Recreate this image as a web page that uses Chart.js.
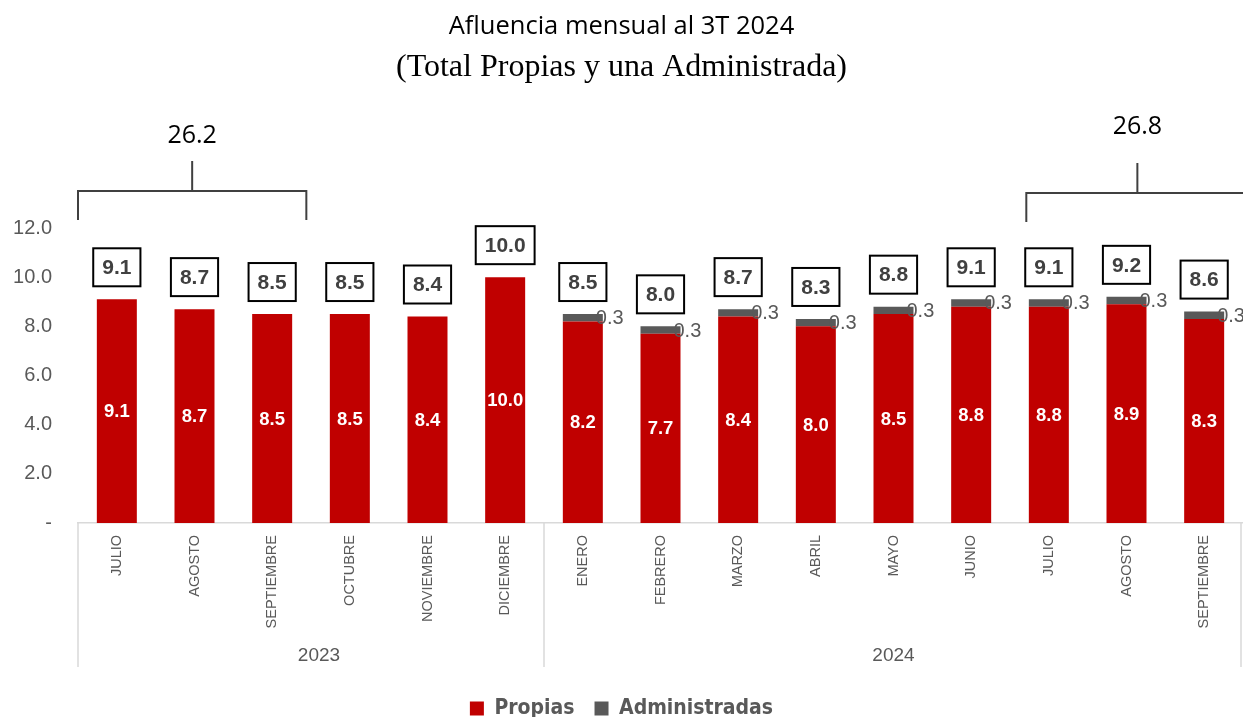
<!DOCTYPE html>
<html><head><meta charset="utf-8">
<script src="https://cdn.jsdelivr.net/npm/chart.js@4.4.1/dist/chart.umd.min.js"></script>
<style>html,body{margin:0;padding:0;background:#fff;overflow:hidden}canvas{display:block}</style>
</head><body>
<canvas id="c" width="1243" height="717"></canvas>
<script>
// ---- data ----
const categories = ['JULIO','AGOSTO','SEPTIEMBRE','OCTUBRE','NOVIEMBRE','DICIEMBRE','ENERO','FEBRERO','MARZO','ABRIL','MAYO','JUNIO','JULIO','AGOSTO','SEPTIEMBRE'];
const propias = [9.1, 8.7, 8.5, 8.5, 8.4, 10.0, 8.2, 7.7, 8.4, 8.0, 8.5, 8.8, 8.8, 8.9, 8.3];
const administradas = [null, null, null, null, null, null, 0.3, 0.3, 0.3, 0.3, 0.3, 0.3, 0.3, 0.3, 0.3];
const yTicks = [0, 2, 4, 6, 8, 10, 12];
const years = ['2023', '2024'];
const yearFirst = [0, 6];
const yearLast = [5, 14];
const bracketLabels = ['26.2', '26.8'];
const bracketFrom = [0, 12];
const bracketTo = [2, 14];

// ---- styling ----
const SANS = '"Liberation Sans", Arial, sans-serif';
const NARROW = '"Liberation Sans Narrow", "DejaVu Sans Condensed", "Liberation Sans", sans-serif';
const TITLE_FONT = '"Open Sans", "Liberation Sans", sans-serif';
const RED = '#C00000', GRAY = '#595959', TXT = '#595959';
const LEGEND_PAD = 20, BOTTOM_OVERFLOW = 12;
const CHART_BOTTOM = 523;

const overlay = {
  id: 'overlay',
  afterDatasetsDraw(chart) {
    const ctx = chart.ctx, xs = chart.scales.x, ys = chart.scales.y;
    const m0 = chart.getDatasetMeta(0), m1 = chart.getDatasetMeta(1);
    ctx.save();
    ctx.textBaseline = 'middle';
    // white values inside red bars
    ctx.font = 'bold 18.5px ' + SANS;
    ctx.fillStyle = '#ffffff';
    ctx.textAlign = 'center';
    m0.data.forEach((b, i) => {
      ctx.fillText(propias[i].toFixed(1), b.x, (b.y + b.base) / 2 + 1);
    });
    // administradas values
    ctx.font = '20px ' + SANS;
    ctx.fillStyle = '#595959';
    ctx.textAlign = 'left';
    m1.data.forEach((b, i) => {
      if (administradas[i] == null) return;
      ctx.fillText(administradas[i].toFixed(1), b.x + b.width / 2 - 7, (b.y + b.base) / 2 + 1);
    });
    // boxed totals
    ctx.font = 'bold 21px ' + SANS;
    ctx.textAlign = 'center';
    categories.forEach((c, i) => {
      const total = propias[i] + (administradas[i] || 0);
      const txt = total.toFixed(1);
      const top = ys.getPixelForValue(total);
      const w = ctx.measureText(txt).width + 18, h = 38;
      const cx = m0.data[i].x;
      const bottom = top - 13;
      ctx.fillStyle = '#ffffff';
      ctx.fillRect(cx - w / 2, bottom - h, w, h);
      ctx.strokeStyle = '#000000';
      ctx.lineWidth = 2;
      ctx.strokeRect(cx - w / 2, bottom - h, w, h);
      ctx.fillStyle = '#404040';
      ctx.fillText(txt, cx, bottom - h / 2 + 1);
    });
    ctx.restore();
  },
  afterDraw(chart) {
    const ctx = chart.ctx, xs = chart.scales.x, ca = chart.chartArea;
    const cat = xs.getPixelForValue(1) - xs.getPixelForValue(0);
    ctx.save();
    // group separators & year labels
    ctx.strokeStyle = '#d9d9d9';
    ctx.lineWidth = 1.5;
    const seps = [xs.getPixelForValue(yearFirst[0]) - cat / 2];
    yearLast.forEach(l => seps.push(Math.min(xs.getPixelForValue(l) + cat / 2, chart.width - 2)));
    seps.forEach(sx => {
      ctx.beginPath();
      ctx.moveTo(sx, ca.bottom);
      ctx.lineTo(sx, ca.bottom + 144);
      ctx.stroke();
    });
    ctx.font = '19px ' + SANS;
    ctx.fillStyle = TXT;
    ctx.textAlign = 'center';
    ctx.textBaseline = 'middle';
    years.forEach((y, k) => {
      const a = xs.getPixelForValue(yearFirst[k]) - cat / 2;
      const b = xs.getPixelForValue(yearLast[k]) + cat / 2;
      ctx.fillText(y, (a + b) / 2 + (k === 0 ? 8 : 0), ca.bottom + 133);
    });
    // brackets
    const style = [
      {left: -0.5, right: 0.44, line: -37, foot: -8, stem: -30, text: -92},
      {left: -0.29, right: 0.57, line: -35, foot: -6, stem: -30, text: -101}
    ];
    ctx.strokeStyle = '#404040';
    ctx.lineWidth = 2;
    bracketLabels.forEach((lab, k) => {
      const s = style[k];
      const x0 = xs.getPixelForValue(bracketFrom[k]) + s.left * cat;
      const x1 = xs.getPixelForValue(bracketTo[k]) + s.right * cat;
      const ly = ca.top + s.line;
      const mid = (x0 + x1) / 2;
      ctx.beginPath();
      ctx.moveTo(x0, ca.top + s.foot);
      ctx.lineTo(x0, ly);
      ctx.lineTo(x1, ly);
      ctx.lineTo(x1, ca.top + s.foot);
      ctx.moveTo(mid, ly);
      ctx.lineTo(mid, ly + s.stem);
      ctx.stroke();
      ctx.font = '25px ' + TITLE_FONT;
      ctx.fillStyle = '#000000';
      ctx.fillText(lab, mid, ca.top + s.text);
    });
    ctx.restore();
  }
};

new Chart(document.getElementById('c'), {
  type: 'bar',
  data: {
    labels: categories,
    datasets: [
      {label: 'Propias', data: propias, backgroundColor: RED, barPercentage: 0.515, categoryPercentage: 1},
      {label: 'Administradas', data: administradas, backgroundColor: GRAY, barPercentage: 0.515, categoryPercentage: 1}
    ]
  },
  options: {
    responsive: false,
    animation: false,
    layout: {padding: {top: 0, left: 0, right: 0, bottom: -BOTTOM_OVERFLOW}},
    plugins: {
      title: {
        display: true,
        text: 'Afluencia mensual al 3T 2024',
        color: '#000000',
        font: {family: TITLE_FONT, size: 25.5, weight: 'normal', lineHeight: 1.2},
        padding: {top: 11, bottom: 0}
      },
      subtitle: {
        display: true,
        text: '(Total Propias y una Administrada)',
        color: '#000000',
        font: {family: '"Liberation Serif", "Times New Roman", serif', size: 32, weight: 'normal', lineHeight: 1.2},
        padding: {top: 7, bottom: 141}
      },
      legend: {
        display: true,
        position: 'bottom',
        labels: {
          color: TXT,
          boxWidth: 14,
          boxHeight: 14,
          padding: LEGEND_PAD,
          font: {family: NARROW, size: 21, weight: 'bold'}
        }
      },
      tooltip: {enabled: false}
    },
    scales: {
      x: {
        stacked: true,
        grid: {display: false, drawTicks: false},
        border: {display: true, color: '#d9d9d9', width: 1.5},
        ticks: {
          color: TXT,
          font: {family: SANS, size: 14.5},
          minRotation: 90,
          maxRotation: 90,
          autoSkip: false,
          padding: 12
        },
        afterFit(scale) {
          const lh = scale.chart.legend ? scale.chart.legend.height : 0;
          scale.height = (scale.chart.height - CHART_BOTTOM) - lh + BOTTOM_OVERFLOW;
        }
      },
      y: {
        stacked: true,
        min: 0,
        max: 12,
        grid: {display: false, drawTicks: false},
        border: {display: false},
        afterBuildTicks(scale) {
          scale.ticks = yTicks.map(v => ({value: v}));
        },
        ticks: {
          color: TXT,
          font: {family: SANS, size: 20},
          padding: 26,
          callback: v => (v === 0 ? '-' : Number(v).toFixed(1))
        },
        afterFit(scale) { scale.width = 78; }
      }
    }
  },
  plugins: [overlay]
});
</script>
</body></html>
